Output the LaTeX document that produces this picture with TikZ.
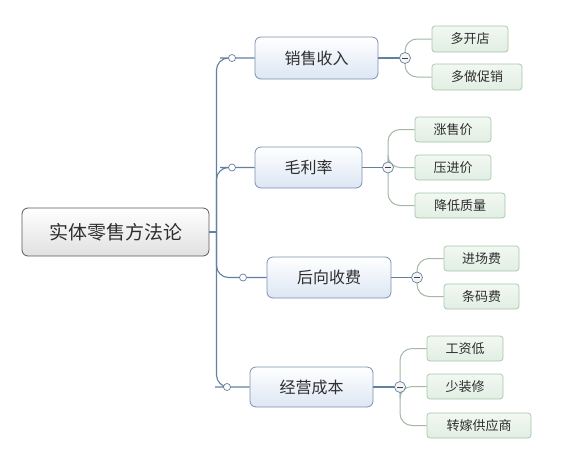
\documentclass[tikz,border=0pt]{standalone}
\usepackage{fontspec}
\setmainfont{Noto Sans CJK SC}
\definecolor{txt}{HTML}{2E2E2E}
\definecolor{mainline}{HTML}{62809F}
\definecolor{subline}{HTML}{A3B8A6}
\definecolor{mainborder}{HTML}{7890B0}
\definecolor{subborder}{HTML}{A5C6AA}
\definecolor{mainfillb}{HTML}{DCE6F3}
\definecolor{subfillt}{HTML}{F2F8F2}
\definecolor{subfillb}{HTML}{E1EEE3}
\tikzset{
  rootbox/.style={draw=black!65, line width=0.8pt, rounded corners=6pt, top color=white, bottom color=black!12, text=txt, font=\fontsize{19}{21}\selectfont, minimum width=187pt, minimum height=48pt, inner sep=0pt},
  mainbox/.style={draw=mainborder, line width=0.8pt, rounded corners=6pt, top color=white, bottom color=mainfillb, text=txt, font=\fontsize{16}{18}\selectfont, minimum height=41pt, inner sep=0pt},
  subbox/.style={draw=subborder, line width=0.7pt, rounded corners=3pt, top color=subfillt, bottom color=subfillb, text=txt, font=\fontsize{13}{15}\selectfont, minimum height=25pt, inner sep=0pt},
  knob/.style={circle, draw=mainline, fill=white, line width=0.7pt, minimum size=7pt, inner sep=0pt},
  minusknob/.style={circle, draw=mainline, fill=black!4, line width=0.7pt, minimum size=11pt, inner sep=0pt,
    path picture={\draw[black!75, line width=0.8pt] ([xshift=-2.8pt]path picture bounding box.center) -- ([xshift=2.8pt]path picture bounding box.center);}},
  mainconn/.style={draw=mainline, line width=1.1pt, rounded corners=12pt},
  subconn/.style={draw=subline, line width=1pt, rounded corners=12pt},
}
\begin{document}
\begin{tikzpicture}[x=1pt,y=-1pt]
\useasboundingbox (0,0) rectangle (584,456);
% nodes
\node[rootbox] (root) at (115.5,232) {实体零售方法论};
\node[mainbox, minimum width=123pt, minimum height=42pt] (b1) at (316.5,58) {销售收入};
\node[mainbox, minimum width=107pt] (b2) at (308.5,167.5) {毛利率};
\node[mainbox, minimum width=124pt] (b3) at (329,277.5) {后向收费};
\node[mainbox, minimum width=123pt, minimum height=40pt] (b4) at (311.5,387) {经营成本};

\node[subbox, minimum width=76pt, minimum height=26pt] (c11) at (470,39) {多开店};
\node[subbox, minimum width=90pt, minimum height=26pt] (c12) at (477,77) {多做促销};
\node[subbox, minimum width=76pt] (c21) at (453,129.5) {涨售价};
\node[subbox, minimum width=76pt] (c22) at (453,167.5) {压进价};
\node[subbox, minimum width=90pt] (c23) at (460,205.5) {降低质量};
\node[subbox, minimum width=75pt] (c31) at (481.5,258.5) {进场费};
\node[subbox, minimum width=75pt] (c32) at (481.5,296.5) {条码费};
\node[subbox, minimum width=76pt] (c41) at (465,348.5) {工资低};
\node[subbox, minimum width=76pt] (c42) at (465,386.5) {少装修};
\node[subbox, minimum width=104pt] (c43) at (479,425.5) {转嫁供应商};

\coordinate (t) at (216.5,232);
\coordinate (k1) at (232,58);
\coordinate (k2) at (232,167.5);
\coordinate (k3) at (243,277.5);
\coordinate (k4) at (227,387);
\coordinate (m1) at (405,58);
\coordinate (m2) at (388,167.5);
\coordinate (m3) at (417,277.5);
\coordinate (m4) at (400,387);

% main connectors
\draw[mainconn] (root.east) -- (t);
\foreach \k/\b in {k1/b1,k2/b2,k3/b3,k4/b4}{
  \draw[mainconn] (t) |- (\k) -- (\b.west);
}
% sub connectors
\foreach \m/\c in {m1/c11,m1/c12,m2/c21,m2/c22,m2/c23,m3/c31,m3/c32,m4/c41,m4/c42,m4/c43}{
  \draw[subconn] (\m) |- (\c.west);
}
\foreach \m/\b in {m1/b1,m2/b2,m3/b3,m4/b4}{
  \draw[draw=mainline, line width=1.1pt] (\b.east) -- (\m);
}
% knobs
\foreach \k in {k1,k2,k3,k4}{ \node[knob] at (\k) {}; }
\foreach \m in {m1,m2,m3,m4}{ \node[minusknob] at (\m) {}; }
\end{tikzpicture}
\end{document}
